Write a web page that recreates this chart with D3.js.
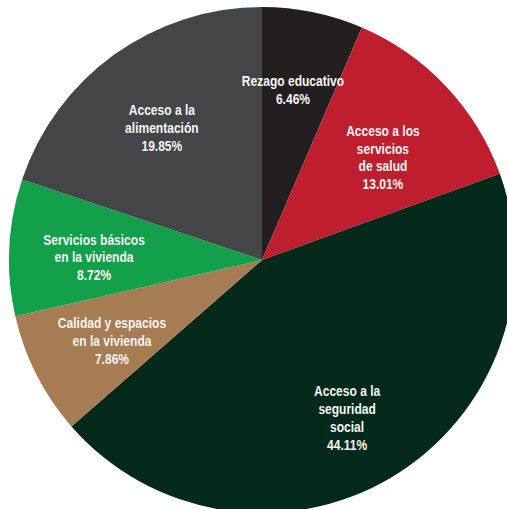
<!DOCTYPE html>
<html>
<head>
<meta charset="utf-8">
<script src="https://cdn.jsdelivr.net/npm/d3@7"></script>
<style>
  html, body { margin: 0; padding: 0; background: #ffffff; overflow: hidden; }
  svg { display: block; }
</style>
</head>
<body>
<svg id="chart" width="507" height="509"></svg>
<script>
// Carencias sociales: porcentaje de cada componente
const categories = [
  ["Rezago educativo"],
  ["Acceso a los", "servicios", "de salud"],
  ["Acceso a la", "seguridad", "social"],
  ["Calidad y espacios", "en la vivienda"],
  ["Servicios básicos", "en la vivienda"],
  ["Acceso a la", "alimentación"]
];
const values = [6.46, 13.01, 44.11, 7.86, 8.72, 19.85];
const valueLabels = ["6.46%", "13.01%", "44.11%", "7.86%", "8.72%", "19.85%"];
const colors = ["#231f20", "#be1e2d", "#05291a", "#a67c52", "#13a04a", "#434547"];

const width = 507, height = 509;
const cx = 262, cy = 260, radius = 253;
// label block placement: share of the radius and angular nudge (degrees)
const labelRadius = [0.683, 0.627, 0.709, 0.674, 0.664, 0.655];
const labelShift = [-1.3, 3.0, 2.2, -1.4, -1.9, -1.45];
const lineHeight = 17.7;
const fontSize = 14.5;
const condense = 0.83; // narrow face look

const svg = d3.select("#chart");
const g = svg.append("g").attr("transform", `translate(${cx},${cy})`);

const pie = d3.pie().sort(null).value(d => d);
const arcs = pie(values);
const arc = d3.arc().innerRadius(0).outerRadius(radius);

g.selectAll("path.slice")
  .data(arcs)
  .join("path")
  .attr("class", "slice")
  .attr("d", arc)
  .attr("fill", (d, i) => colors[i]);

g.selectAll("text.label")
  .data(arcs)
  .join("text")
  .attr("class", "label")
  .attr("text-anchor", "middle")
  .attr("font-family", "'Liberation Sans', Arial, sans-serif")
  .attr("font-weight", "bold")
  .attr("font-size", fontSize)
  .attr("fill", "#f4f4f4")
  .each(function (d, i) {
    const r = radius * labelRadius[i];
    const a = (d.startAngle + d.endAngle) / 2 + labelShift[i] * Math.PI / 180;
    const x = r * Math.sin(a), y = -r * Math.cos(a);
    const lines = categories[i].concat([valueLabels[i]]);
    const t = d3.select(this)
      .attr("transform", `translate(${x},${y}) scale(${condense},1)`);
    const top = -(lines.length - 1) * lineHeight / 2;
    lines.forEach((ln, k) => {
      t.append("tspan")
        .attr("x", 0)
        .attr("y", top + k * lineHeight)
        .attr("dy", "0.35em")
        .text(ln);
    });
  });
</script>
</body>
</html>
